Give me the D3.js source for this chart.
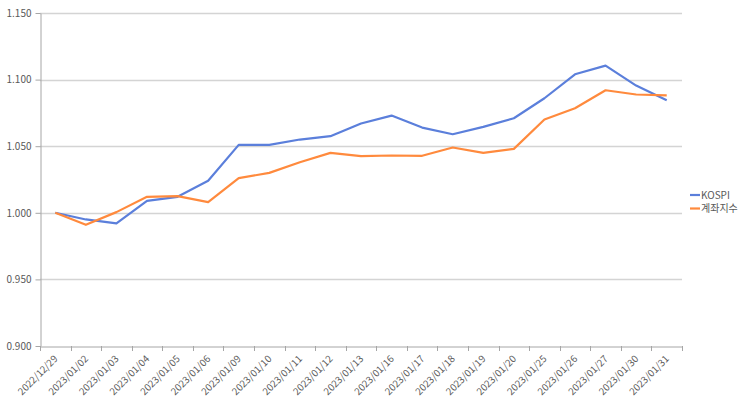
<!DOCTYPE html>
<html><head><meta charset="utf-8">
<script src="https://cdn.jsdelivr.net/npm/d3@7"></script>
<style>body{margin:0;background:#fff}svg{display:block}text{font-family:"Noto Sans CJK KR","Noto Sans",sans-serif}</style>
</head><body><svg id="c" width="743" height="405"></svg>
<script>
const categories = ["2022/12/29","2023/01/02","2023/01/03","2023/01/04","2023/01/05","2023/01/06","2023/01/09","2023/01/10","2023/01/11","2023/01/12","2023/01/13","2023/01/16","2023/01/17","2023/01/18","2023/01/19","2023/01/20","2023/01/25","2023/01/26","2023/01/27","2023/01/30","2023/01/31"];
const kospi = [1.000,0.995,0.992,1.009,1.012,1.024,1.051,1.051,1.055,1.0575,1.067,1.073,1.064,1.059,1.0645,1.071,1.086,1.104,1.1105,1.0955,1.0845];
const account = [1.000,0.991,1.0005,1.012,1.0125,1.008,1.026,1.030,1.038,1.045,1.0425,1.043,1.0428,1.049,1.045,1.048,1.070,1.0785,1.092,1.0888,1.0882];
const yTicks = [0.900,0.950,1.000,1.050,1.100,1.150];
const seriesNames = ["KOSPI","계좌지수"];
const colors = ["#5B7FDB","#FF8A3D"];

const svg = d3.select("#c");
const L=40, R=682, T=13, B=346;
const x = d3.scaleBand().domain(categories).range([L,R]);
const y = d3.scaleLinear().domain([0.9,1.15]).range([B,T]);

// gridlines
svg.append("g").selectAll("line").data(yTicks.slice(1)).join("line")
  .attr("x1",L).attr("x2",R).attr("y1",d=>Math.round(y(d))+0.5).attr("y2",d=>Math.round(y(d))+0.5)
  .attr("stroke","#d4d4d4").attr("stroke-width",1.3);

// y axis
const ya = svg.append("g").attr("transform",`translate(${L+0.5},0)`)
  .call(d3.axisLeft(y).tickValues(yTicks).tickFormat(d3.format(".3f")).tickSize(5).tickSizeOuter(0));
ya.select(".domain").attr("stroke","#a6a6a6");
ya.selectAll(".tick line").attr("stroke","#a6a6a6");
ya.selectAll(".tick text").attr("fill","#595959").attr("font-size",10).attr("x",-9);

// x axis
const xa = svg.append("g").attr("transform",`translate(0,${B+0.5})`)
  .call(d3.axisBottom(x).tickSize(0).tickSizeOuter(0));
xa.select(".domain").attr("stroke","#a6a6a6");
xa.selectAll(".tick line").remove();
svg.append("g").selectAll("line").data(d3.range(categories.length+1)).join("line")
  .attr("x1",i=>Math.round(L+i*x.step())+0.5).attr("x2",i=>Math.round(L+i*x.step())+0.5)
  .attr("y1",B).attr("y2",B+5).attr("stroke","#a6a6a6");
xa.selectAll(".tick text").attr("fill","#595959").attr("font-size",9.8)
  .attr("text-anchor","end").attr("dy",0).attr("y",0)
  .attr("transform","translate(3,13) rotate(-45)");

// lines
const line = d3.line().x((d,i)=>x(categories[i])+x.bandwidth()/2).y(d=>y(d));
[kospi,account].forEach((s,k)=>{
  svg.append("path").datum(s).attr("d",line).attr("fill","none")
    .attr("stroke",colors[k]).attr("stroke-width",2.2).attr("stroke-linejoin","round");
});

// legend
const lg = svg.append("g");
seriesNames.forEach((n,k)=>{
  const yy = 195 + k*13.5;
  lg.append("line").attr("x1",690).attr("x2",700).attr("y1",yy).attr("y2",yy)
    .attr("stroke",colors[k]).attr("stroke-width",2.2);
  lg.append("text").attr("x",701).attr("y",yy+3.5).attr("font-size",10).attr("fill","#595959").text(n);
});
</script></body></html>
